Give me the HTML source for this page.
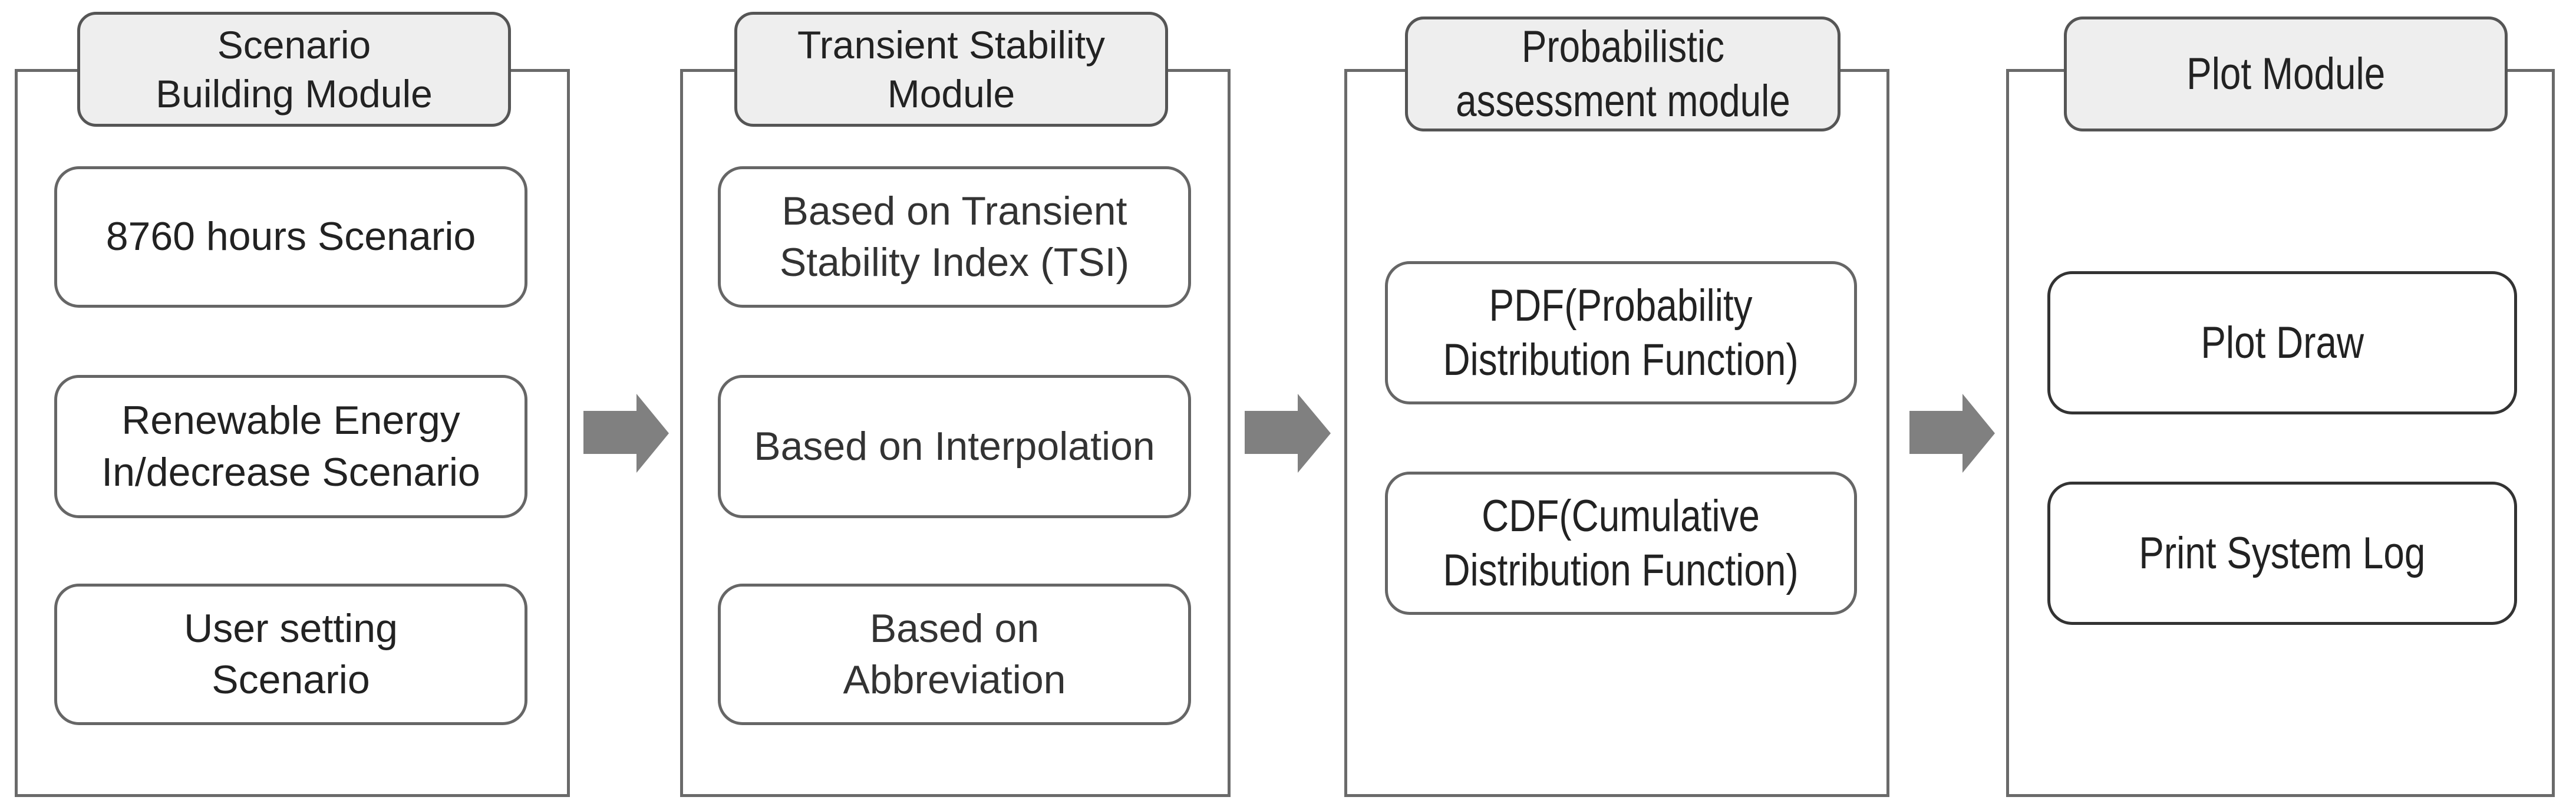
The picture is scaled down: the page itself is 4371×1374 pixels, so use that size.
<!DOCTYPE html>
<html><head><style>
body{margin:0;width:4371px;height:1374px;background:#fff;position:relative;overflow:hidden;font-family:"Liberation Sans",sans-serif;color:#222}
.o{position:absolute;border:5px solid #6a6a6a;box-sizing:border-box;top:117px;height:1235px;background:#fff}
.h{position:absolute;border:5px solid #555;border-radius:32px;background:#eeeeee;box-sizing:border-box;top:20px;height:195px;display:flex;align-items:center;justify-content:center;text-align:center;font-size:66px;line-height:1.25}
.b{position:absolute;border:5px solid #666;border-radius:42px;background:#fff;box-sizing:border-box;display:flex;align-items:center;justify-content:center;text-align:center;font-size:68px;line-height:1.28}
.n span{display:inline-block;transform:scaleX(.84);font-size:76px;line-height:1.2;white-space:nowrap}
svg{position:absolute}
</style></head><body>
<div class="o" style="left:25px;width:942px"></div>
<div class="h" style="left:131px;width:736px">Scenario<br>Building Module</div>
<div class="b" style="left:92px;width:803px;top:282px;height:240px">8760 hours Scenario</div>
<div class="b" style="left:92px;width:803px;top:636px;height:243px">Renewable Energy<br>In/decrease Scenario</div>
<div class="b" style="left:92px;width:803px;top:990px;height:240px">User setting<br>Scenario</div>

<div class="o" style="left:1154px;width:934px"></div>
<div class="h" style="left:1246px;width:736px">Transient Stability<br>Module</div>
<div class="b" style="left:1218px;width:803px;top:282px;height:240px;color:#333">Based on Transient<br>Stability Index (TSI)</div>
<div class="b" style="left:1218px;width:803px;top:636px;height:243px;color:#333">Based on Interpolation</div>
<div class="b" style="left:1218px;width:803px;top:990px;height:240px;color:#333">Based on<br>Abbreviation</div>

<div class="o" style="left:2281px;width:925px"></div>
<div class="h n" style="left:2384px;width:739px;top:28px"><span>Probabilistic<br>assessment module</span></div>
<div class="b n" style="left:2350px;width:801px;top:443px;height:243px"><span>PDF(Probability<br>Distribution Function)</span></div>
<div class="b n" style="left:2350px;width:801px;top:800px;height:243px"><span>CDF(Cumulative<br>Distribution Function)</span></div>

<div class="o" style="left:3404px;width:931px"></div>
<div class="h n" style="left:3502px;width:753px;top:28px"><span>Plot Module</span></div>
<div class="b n" style="left:3474px;width:797px;top:460px;height:243px;border-color:#333"><span>Plot Draw</span></div>
<div class="b n" style="left:3474px;width:797px;top:817px;height:243px;border-color:#333"><span>Print System Log</span></div>

<svg width="4371" height="1374" style="left:0;top:0">
<g fill="#808080">
<polygon points="990,697 1080,697 1080,668 1135,735 1080,802 1080,770 990,770"/>
<polygon points="2112,697 2202,697 2202,668 2258,735 2202,802 2202,770 2112,770"/>
<polygon points="3240,697 3330,697 3330,668 3385,735 3330,802 3330,770 3240,770"/>
</g></svg>
</body></html>
